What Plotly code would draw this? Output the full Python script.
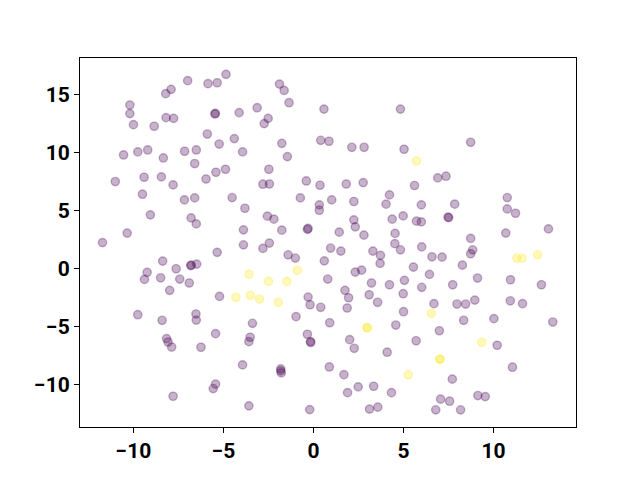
import plotly.graph_objects as go

# Cluster 0 (purple) points
x_purple = [-4.86, -6.99, -5.86, -5.35, -7.91, -8.21, -10.20, -10.20, -5.45, -5.48,
            -4.13, -10.0, -8.85, -8.19, -7.77, -5.90, -4.40, -5.24, -3.94, -10.55,
            -9.76, -9.21, -8.34, -7.16, -6.51, -6.60, -11.01, -9.41, -8.45, -7.80,
            -5.97, -5.42, -4.89, -9.50, -7.17, -6.60, -4.52, -3.81, -9.06, -6.80,
            -6.51, -10.35, -3.89, -11.72,
            -1.89, -1.63, -1.36, -3.13, -2.52, -2.74, 0.58, 4.83, 0.40, 0.86,
            -1.76, -1.45, 2.13, 2.81, 5.03, -2.48, -2.81, -2.45, -0.40, 0.36,
            1.82, 2.76, 5.61, -0.73, 0.32, 0.32, 1.01, 2.24, 4.22, 4.03,
            4.37, 4.98, -2.56, -2.20, -0.30, -0.34, -1.76, 1.43, 2.24, 2.32,
            2.80, 4.53, 4.52, -2.45,
            8.73, 6.90, 7.36, 5.99, 7.84, 10.76, 10.76, 11.22, 5.72, 5.99,
            7.47, 7.51, 13.05, 10.68, 8.73, 6.01,
            -5.35, -3.89, -8.38, -9.24, -9.39, -8.49, -7.63, -7.43, -6.79, -6.82,
            -6.49, -6.90, -7.99, -5.22, -9.76, -8.41, -6.53, -6.51, -5.44, -8.16,
            -8.08, -7.88, -6.25, -3.94, -5.44, -5.57, -7.80,
            -2.81, -1.41, -1.01, 0.95, 1.52, 0.60, 3.30, 3.72, 3.70, 4.83,
            2.32, 2.67, 0.79, 3.22, 4.22, 5.05, 5.55, 1.75, 1.95, 1.87,
            -0.30, -0.19, 0.40, 3.09, 3.56, 4.98, 5.00, -0.97, -3.39, 0.90,
            4.57, -0.34, -0.17, -0.15, -3.52, -3.59, 2.01, 2.26, 4.09, -1.82,
            -1.82, -1.79, 0.88, 1.69, 1.89, 2.48, 3.34, 4.33, -3.59, -0.21,
            3.11, 3.57,
            8.84, 8.73, 6.58, 7.14, 8.27, 6.44, 6.01, 7.73, 9.11, 10.94,
            12.66, 6.69, 7.97, 8.45, 8.96, 10.93, 11.61, 8.34, 10.02, 13.29,
            6.99, 5.70, 10.20, 11.05, 7.71, 7.06, 7.56, 9.13, 9.54, 6.79,
            8.17]
y_purple = [16.71, 16.17, 15.91, 15.99, 15.42, 15.05, 14.07, 13.33, 13.35, 13.30,
            13.41, 12.38, 12.24, 12.98, 12.92, 11.57, 11.18, 10.71, 10.03, 9.77,
            10.03, 10.20, 9.51, 10.09, 10.20, 9.03, 7.48, 7.85, 7.88, 7.19,
            7.70, 8.28, 8.54, 6.39, 5.90, 6.07, 6.10, 5.18, 4.61, 4.35,
            3.83, 3.04, 3.32, 2.22,
            15.87, 15.33, 14.27, 13.84, 12.92, 12.47, 13.72, 13.72, 11.03, 10.95,
            10.77, 9.63, 10.43, 10.43, 10.26, 8.54, 7.25, 7.27, 7.53, 7.16,
            7.27, 7.39, 7.14, 6.07, 5.47, 5.01, 5.90, 5.76, 6.33, 5.53,
            4.24, 4.52, 4.50, 4.24, 3.44, 3.36, 3.29, 3.12, 4.18, 3.58,
            2.86, 3.01, 2.13, 2.18,
            10.86, 7.79, 7.94, 5.47, 5.53, 6.10, 5.12, 4.75, 4.07, 4.01,
            4.41, 4.37, 3.40, 3.04, 2.58, 1.85,
            1.38, 2.03, 0.63, -0.34, -0.95, -0.81, -0.03, -0.92, 0.28, 0.24,
            0.37, -1.26, -1.89, -2.41, -3.99, -4.47, -3.93, -4.45, -5.62, -6.05,
            -6.34, -6.77, -6.79, -8.31, -9.97, -10.35, -11.01,
            1.72, 1.17, 0.89, 1.75, 1.49, 0.65, 1.49, 1.12, 0.43, 1.60,
            -0.32, -0.15, -0.92, -1.26, -1.41, -1.03, 0.11, -1.89, -2.53, -3.41,
            -2.47, -3.13, -3.35, -2.27, -2.92, -2.18, -3.73, -4.16, -4.73, -4.68,
            -4.88, -5.67, -6.30, -6.38, -5.93, -6.31, -6.14, -6.88, -7.22, -8.66,
            -8.83, -9.00, -8.49, -9.15, -10.70, -10.21, -10.15, -10.70, -11.84, -12.16,
            -12.12, -11.95,
            1.60, 1.26, 1.00, 0.97, 0.28, -0.52, -1.63, -1.41, -0.83, -0.98,
            -1.41, -3.04, -3.07, -3.07, -2.73, -2.79, -3.04, -4.47, -4.33, -4.62,
            -5.37, -6.23, -6.62, -8.51, -9.54, -11.26, -11.44, -10.95, -11.04, -12.18,
            -12.18]

# Cluster 1 (yellow) points
x_yellow = [5.72, -4.31, -0.90, -3.59, -2.50, -1.48, -3.50, -3.00, -1.95,
            2.97, 2.99, 5.26, 11.29, 11.59, 12.45, 6.55, 9.35, 7.01, 7.03]
y_yellow = [9.25, -2.49, -0.17, -0.49, -1.12, -1.12, -2.32, -2.64, -2.92,
            -5.10, -5.12, -9.17, 0.89, 0.89, 1.17, -3.87, -6.36, -7.81, -7.83]

ALPHA = 0.3
purple = f"rgba(68,1,84,{ALPHA})"
yellow = f"rgba(253,231,37,{ALPHA})"

fig = go.Figure()
fig.add_trace(go.Scatter(
    x=x_purple, y=y_purple, mode="markers", showlegend=False,
    marker=dict(size=8.3, color=purple, line=dict(color=purple, width=1.4)),
))
fig.add_trace(go.Scatter(
    x=x_yellow, y=y_yellow, mode="markers", showlegend=False,
    marker=dict(size=8.3, color=yellow, line=dict(color=yellow, width=1.4)),
))

axis_common = dict(
    showgrid=False, zeroline=False, showline=True, linecolor="black", linewidth=1,
    mirror=True, ticks="outside", ticklen=5, tickwidth=1, tickcolor="black",
    tickfont=dict(family="Roboto", size=21, color="black", weight="bold"),
)
fig.update_xaxes(range=[-12.97, 14.58], tickvals=[-10, -5, 0, 5, 10],
                 ticktext=["\u221210", "\u22125", "0", "5", "10"], **axis_common)
fig.update_yaxes(range=[-13.66, 18.12], tickvals=[-10, -5, 0, 5, 10, 15],
                 ticktext=["\u221210", "\u22125", "0", "5", "10", "15"], **axis_common)

fig.update_layout(
    width=640, height=480,
    margin=dict(l=72, r=72, t=50, b=61, pad=0),
    plot_bgcolor="white", paper_bgcolor="white",
)

fig.write_html("out.html")
